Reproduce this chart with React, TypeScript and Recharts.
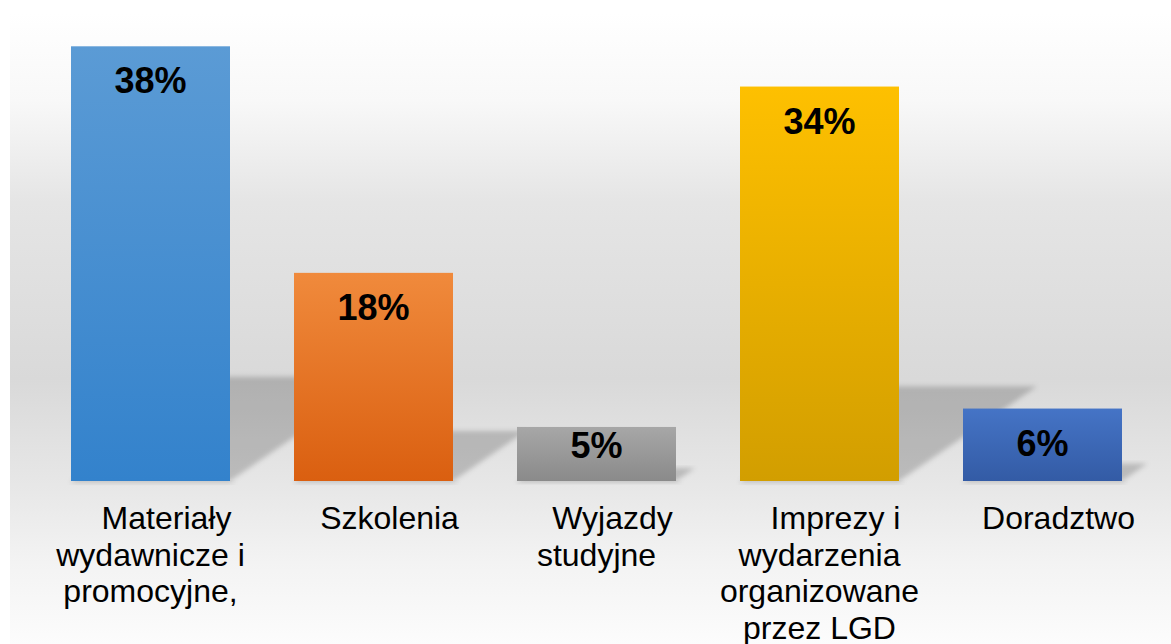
import React from "react";
import { BarChart, Bar, XAxis, YAxis, LabelList } from "recharts";

const categories = [
  "Materiały wydawnicze i promocyjne,",
  "Szkolenia",
  "Wyjazdy studyjne",
  "Imprezy i wydarzenia organizowane przez LGD",
  "Doradztwo",
];
const tickLines = [
  ["Materiały", "wydawnicze i", "promocyjne,"],
  ["Szkolenia"],
  ["Wyjazdy", "studyjne"],
  ["Imprezy i", "wydarzenia", "organizowane", "przez LGD"],
  ["Doradztwo"],
];
const shares = [37.8, 18.1, 4.7, 34.3, 6.3];
const valueLabels = ["38%", "18%", "5%", "34%", "6%"];

const barGradients = [
  ["#5b9bd5", "#3382cc"],
  ["#f08a3c", "#da5f10"],
  ["#a7a7a7", "#8a8a8a"],
  ["#fec000", "#d29e00"],
  ["#4574c6", "#335ba5"],
];

const data = categories.map((c, i) => ({ name: c, value: shares[i], label: valueLabels[i], idx: i }));

const FONT = "'Liberation Sans', Arial, sans-serif";

const BarShape = (props: any) => {
  const { x, y, width, height, index } = props;
  const b = y + height;
  const k = 0.24;
  const s = height * 0.35;
  const top = b - k * height;
  const [c1, c2] = barGradients[index % barGradients.length];
  const gid = `barGrad${index}`;
  const fid = `shBlur${index}`;
  return (
    <g>
      <defs>
        <linearGradient id={gid} x1="0" y1="0" x2="0" y2="1">
          <stop offset="0%" stopColor={c1} />
          <stop offset="100%" stopColor={c2} />
        </linearGradient>
        <filter id={fid} x="-20%" y="-20%" width="140%" height="140%">
          <feGaussianBlur stdDeviation="2.5" />
        </filter>
      </defs>
      <polygon
        points={`${x},${b} ${x + width},${b} ${x + width + s},${top} ${x + s},${top}`}
        fill="rgba(0,0,0,0.19)"
        filter={`url(#${fid})`}
      />
      <rect x={x} y={b} width={width + 4} height={3} fill="rgba(0,0,0,0.08)" filter={`url(#${fid})`} />
      <rect x={x} y={y} width={width} height={height} fill={`url(#${gid})`} />
    </g>
  );
};

const ValueLabel = (props: any) => {
  const { x, y, width, height, index } = props;
  const cy = y + Math.min(34, height - 36);
  return (
    <text
      x={x + width / 2}
      y={cy + 13}
      textAnchor="middle"
      fontFamily={FONT}
      fontWeight="bold"
      fontSize={36}
      fill="#000"
    >
      {valueLabels[index]}
    </text>
  );
};

const CategoryTick = (props: any) => {
  const { x, y, payload } = props;
  const idx = categories.indexOf(payload.value);
  const lines = tickLines[idx] || [payload.value];
  const base = y + 40;
  return (
    <text textAnchor="middle" fontFamily={FONT} fontSize={32} fill="#000">
      {lines.map((l, i) => (
        <tspan key={i} x={i === 0 ? x + 16 : x} y={base + i * 36.5}>
          {l}
        </tspan>
      ))}
    </text>
  );
};

export default function App() {
  return (
    <div style={{ position: "absolute", left: 0, top: 0, width: 1171, height: 644, background: "#ffffff" }}>
      <div
        style={{
          position: "absolute",
          left: 10,
          top: 13,
          width: 1161,
          height: 631,
          background:
            "linear-gradient(to bottom, #ffffff 0%, #f8f8f8 14%, #e5e5e5 30%, #d9d9d9 58%, #e8e8e8 76%, #f3f3f3 87%, #fcfcfc 100%)",
        }}
      />
      <div style={{ position: "absolute", left: 0, top: 0 }}>
        <BarChart width={1171} height={644} data={data} margin={{ top: 21, right: 17, bottom: 0, left: 39 }}>
          <XAxis
            dataKey="name"
            axisLine={false}
            tickLine={false}
            height={163}
            interval={0}
            tick={<CategoryTick />}
          />
          <YAxis hide domain={[0, 40]} />
          <Bar dataKey="value" barSize={159} shape={<BarShape />} isAnimationActive={false}>
            <LabelList dataKey="value" content={<ValueLabel />} />
          </Bar>
        </BarChart>
      </div>
    </div>
  );
}
